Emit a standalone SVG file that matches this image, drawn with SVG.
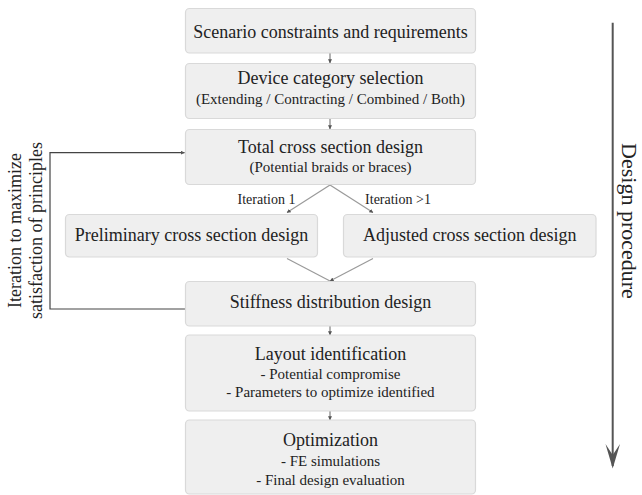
<svg xmlns="http://www.w3.org/2000/svg" width="642" height="495" viewBox="0 0 642 495">
<style>
.box{fill:#efefef;stroke:#d9d9d9;stroke-width:1.2}
.t{font-family:"Liberation Serif","Times New Roman",serif;fill:#222;text-anchor:middle}
.h{font-size:18px}
.s{font-size:15px}
.l{font-size:14px}
.c{fill:none;stroke:#666;stroke-width:1}
.g{fill:none;stroke:#9a9a9a;stroke-width:1.2}
</style>
<defs>
<marker id="a" viewBox="0 0 6 6" refX="5.5" refY="3" markerWidth="4" markerHeight="4" orient="auto" markerUnits="userSpaceOnUse"><path d="M0,0 L6,3 L0,6 z" fill="#555"/></marker>
</defs>
<rect width="642" height="495" fill="#fff"/>
<g id="connectors">
<line class="c" x1="330" y1="53" x2="330" y2="63" marker-end="url(#a)"/>
<line class="c" x1="330" y1="118.5" x2="330" y2="129" marker-end="url(#a)"/>
<path class="g" d="M330,185 L287,212.5" marker-end="url(#a)"/>
<path class="g" d="M330,185 L373,212.5" marker-end="url(#a)"/>
<path class="g" d="M287,258.5 L330,281"/>
<path class="g" d="M373,258.5 L330,281" marker-end="url(#a)"/>
<line class="c" x1="330" y1="326" x2="330" y2="335" marker-end="url(#a)"/>
<line class="c" x1="330" y1="411" x2="330" y2="420" marker-end="url(#a)"/>
<path d="M185,309 L50,309 L50,152.7 L184.5,152.7" fill="none" stroke="#444" stroke-width="1.2" marker-end="url(#a)"/>
<line x1="612.7" y1="22.7" x2="612.7" y2="466" stroke="#555" stroke-width="2"/>
<path d="M605.5,444 L612.7,468.5 L620,444 L612.7,455 z" fill="#555"/>
</g>
<g id="n1"><rect class="box" x="185.5" y="8.5" width="290" height="44.5" rx="4"/><text class="t h" x="330.5" y="37.5">Scenario constraints and requirements</text></g>
<g id="n2"><rect class="box" x="185.5" y="63.5" width="290" height="55" rx="4"/><text class="t h" x="330.5" y="84">Device category selection</text><text class="t s" x="330.5" y="103.5">(Extending / Contracting / Combined / Both)</text></g>
<g id="n3"><rect class="box" x="185.5" y="129.5" width="290" height="55" rx="4"/><text class="t h" x="330.5" y="152.5">Total cross section design</text><text class="t s" x="330.5" y="172">(Potential braids or braces)</text></g>
<g id="e1"><text class="t l" x="266.5" y="204">Iteration 1</text></g>
<g id="e2"><text class="t l" x="398" y="204">Iteration &gt;1</text></g>
<g id="n4"><rect class="box" x="65.5" y="214.5" width="252" height="42.5" rx="4"/><text class="t h" x="191.5" y="241">Preliminary cross section design</text></g>
<g id="n5"><rect class="box" x="343.5" y="214.5" width="252.5" height="42.5" rx="4"/><text class="t h" x="469.7" y="241">Adjusted cross section design</text></g>
<g id="n6"><rect class="box" x="185.5" y="281.5" width="290" height="44.5" rx="4"/><text class="t h" x="330.5" y="307.5">Stiffness distribution design</text></g>
<g id="n7"><rect class="box" x="185.5" y="335" width="290" height="76" rx="4"/><text class="t h" x="330.5" y="359.5">Layout identification</text><text class="t s" x="330.5" y="378.5">- Potential compromise</text><text class="t s" x="330.5" y="397">- Parameters to optimize identified</text></g>
<g id="n8"><rect class="box" x="185.5" y="420" width="290" height="74" rx="4"/><text class="t h" x="330.5" y="446">Optimization</text><text class="t s" x="330.5" y="466">- FE simulations</text><text class="t s" x="330.5" y="485">- Final design evaluation</text></g>
<g id="loop-label"><text class="t h" transform="translate(20.5,230.5) rotate(-90)">Iteration to maximize</text><text class="t h" transform="translate(42,230.5) rotate(-90)">satisfaction of principles</text></g>
<g id="axis-label"><text class="t" font-size="22" transform="translate(622,221) rotate(90)">Design procedure</text></g>
</svg>
